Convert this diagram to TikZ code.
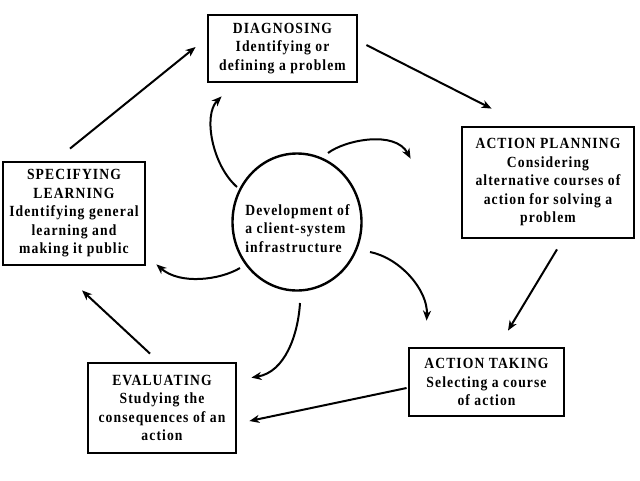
\documentclass[tikz,border=0pt]{standalone}
\usepackage{fontspec}
\setmainfont{Liberation Serif}[LetterSpace=7,FakeStretch=0.88]
\usetikzlibrary{arrows.meta,calc,shapes.geometric}
\begin{document}
\begin{tikzpicture}[x=1pt,y=-1pt,
  txt/.style={font=\fontsize{15.5}{18.5}\selectfont\bfseries},
  boxnode/.style={draw,line width=2.8pt,inner sep=2pt,align=center,txt},
  conn/.style={line width=2pt,-{Stealth[length=10pt,width=8pt,inset=3pt]}}]
\fill[white] (0,0) rectangle (640,480);
\useasboundingbox (0,0) rectangle (640,480);
\node[boxnode,minimum width=149pt,minimum height=67pt] (dg) at (282.5,48.5)
  {DIAGNOSING\\Identifying or\\defining a problem};
\node[boxnode,minimum width=172pt,minimum height=111pt] (ap) at (548,182.5)
  {ACTION PLANNING\\Considering\\alternative courses of\\action for solving a\\problem};
\node[boxnode,minimum width=155pt,minimum height=68pt] (at) at (486.5,382)
  {ACTION TAKING\\Selecting a course\\of action};
\node[boxnode,minimum width=148pt,minimum height=90pt] (ev) at (162,408)
  {EVALUATING\\Studying the\\consequences of an\\action};
\node[boxnode,minimum width=142pt,minimum height=103pt] (sl) at (74,213.5)
  {SPECIFYING\\LEARNING\\Identifying general\\learning and\\making it public};
\node[draw,line width=2.4pt,ellipse,minimum width=129pt,minimum height=137pt] (c) at (297,222) {};
\node[align=left,txt,inner sep=0pt] (ct) at (297.5,228.5)
  {Development of\\a client-system\\infrastructure};
% straight arrows
\draw[conn] ($(dg.east)+(8,-3.5)$) -- ($(ap.north west)+(31,-17)$);
\draw[conn] ($(ap.south)+(9,10)$) -- ($(at.north)+(21.5,-16)$);
\draw[conn] ($(at.west)+(-1,6)$) -- ($(ev.east)+(12,13)$);
\draw[conn] ($(ev.north)+(-12,-8)$) -- ($(sl.south)+(8,24)$);
\draw[conn] ($(sl.north)+(-4,-12)$) -- ($(dg.west)+(-11,-1.5)$);
% curved arrows
\draw[conn] ($(c.center)+(-60,-35)$) .. controls (212,165) and (203,115) .. ($(dg.south west)+(15,13)$);
\draw[conn] ($(c.center)+(31,-69)$) .. controls (345,140) and (395,130) .. ($(ap.north west)+(-50,33)$);
\draw[conn] ($(c.center)+(73,30)$) .. controls (400,258) and (428,290) .. ($(at.north west)+(19,-26)$);
\draw[conn] ($(c.center)+(3,81)$) .. controls (298,335) and (285,372) .. ($(ev.north east)+(14,16)$);
\draw[conn] ($(c.center)+(-57,46)$) .. controls (220,280) and (180,285) .. ($(sl.south east)+(10,-2)$);
\end{tikzpicture}
\end{document}
